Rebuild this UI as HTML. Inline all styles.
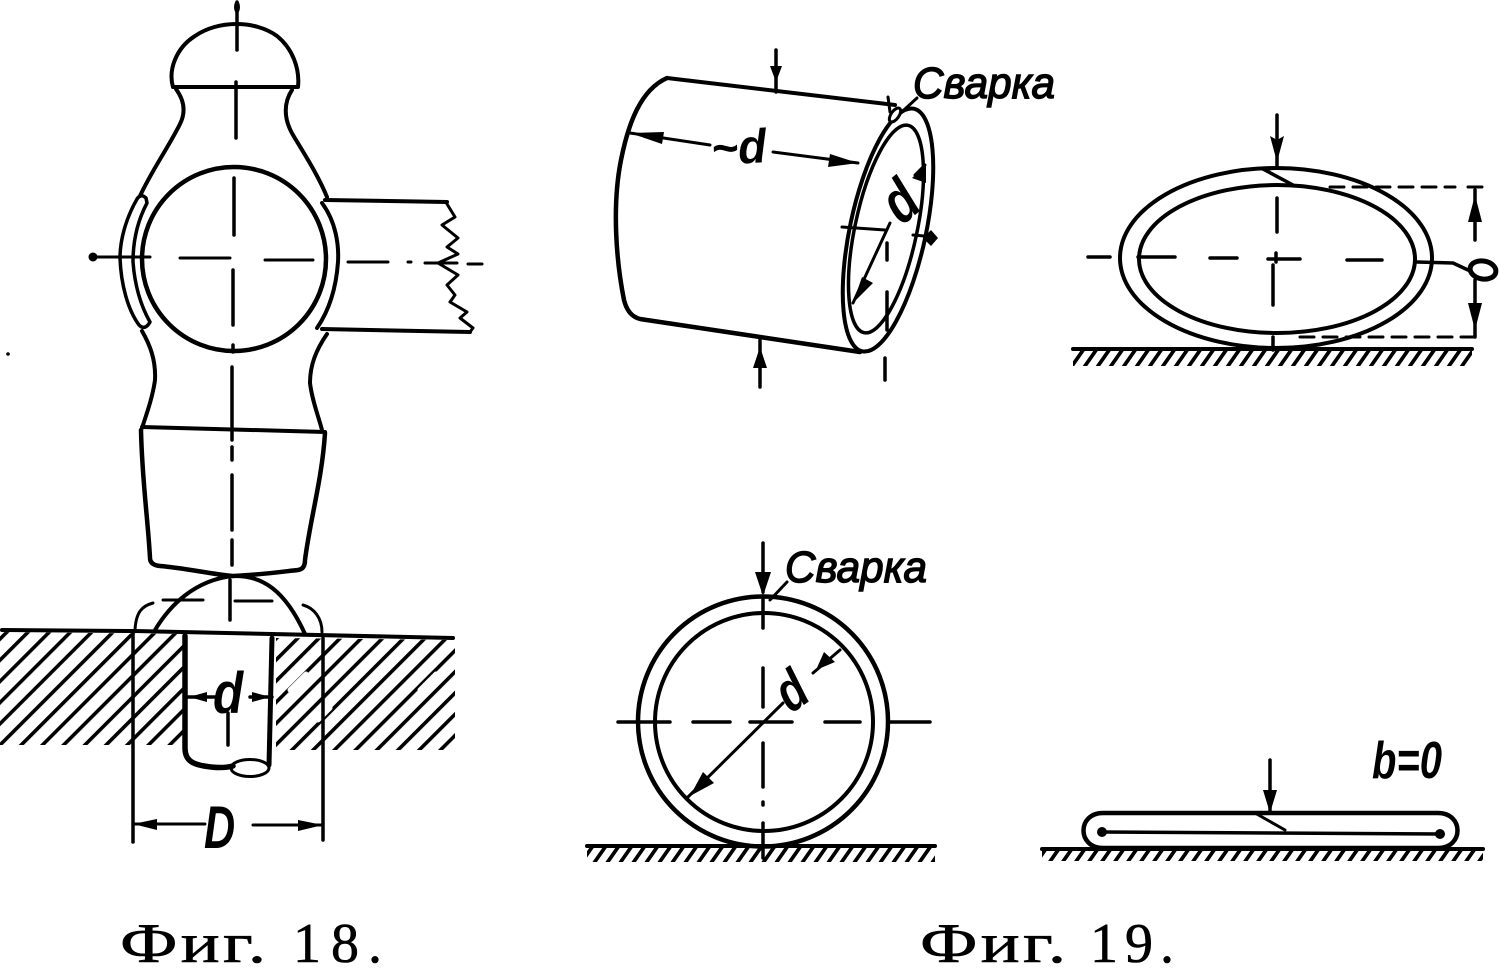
<!DOCTYPE html>
<html><head><meta charset="utf-8"><style>
html,body{margin:0;padding:0;background:#fff}
svg{display:block}
text{fill:#000}
.c{font-family:"Liberation Serif","Noto Serif CJK SC",serif;font-size:56px;stroke:#000;stroke-width:.6}
.h{font-family:"Liberation Sans",sans-serif;font-style:italic;font-weight:bold}
.s{font-family:"Liberation Sans",sans-serif;font-style:italic;font-size:44px;stroke:#000;stroke-width:1.4}
</style></head><body>
<svg width="1500" height="968" viewBox="0 0 1500 968" xmlns="http://www.w3.org/2000/svg">
<defs>
<pattern id="hat" width="15" height="15" patternUnits="userSpaceOnUse" patternTransform="rotate(45)"><rect x="0" y="0" width="3.6" height="15" fill="#000"/></pattern>
<pattern id="gr" width="13" height="20" patternUnits="userSpaceOnUse" patternTransform="skewX(-35)"><rect width="4.5" height="20" fill="#000"/></pattern>
</defs>

<!-- hatching first -->
<path d="M0 632L183 634V745H0Z M276 638L455 640V750H276Z" fill="url(#hat)"/>
<g stroke="#fff" stroke-width="5" stroke-linecap="round">
<path d="M290 690L306 674M318 720L330 708M300 735L312 723M375 700L392 683M420 690L436 674M425 735L440 720"/>
</g>
<path d="M1073 350H1472V366H1073Z M587 846H935V862H587Z M1042 849H1483V861H1042Z" fill="url(#gr)"/>

<g fill="none" stroke="#000" stroke-width="4" stroke-linecap="round" stroke-linejoin="round">
<!-- Fig 18 hammer -->
<path d="M173 87C168 70 176 48 195 36C218 20 255 20 277 36C292 48 300 68 298 87Z"/>
<path d="M176 89C184 100 186 112 180 124C168 148 152 170 140 196"/>
<path d="M292 90C284 102 283 118 293 135C305 155 318 175 327 197"/>
<circle cx="234" cy="259" r="92" stroke-width="4.5"/>
<path d="M146 198Q141 193 137 199C126 218 120 240 120 258C121 285 128 310 139 325Q145 331 150 322C142 308 135 288 133 262C133 240 138 220 147 203Z" stroke-width="3.5"/>
<path d="M322 203C336 222 339 245 338 262C336 290 328 312 317 328" stroke-width="4"/>
<path d="M325 200L447 202M322 329L470 332"/>
<path d="M447 204L455 217L442 225L458 238L447 247L458 254L438 263L458 275L447 285L455 295L450 302L467 312L460 318L473 328L470 332" stroke-width="3"/>
<path d="M142 331C150 345 156 360 155 380C153 395 148 410 142 428"/>
<path d="M327 334C316 350 310 365 310 383C312 400 318 415 322 430"/>
<path d="M142 427L325 432"/>
<path d="M141 430C142 480 148 520 150 558Q150 565 160 566C185 568 210 574 233 576C258 575 280 572 298 570Q305 569 305 560C310 520 322 480 325 433" stroke-width="4.5"/>
<path d="M155 630C170 605 195 580 233 576C262 575 285 590 305 634"/>
<path d="M135 630C136 612 142 606 153 603M303 605C314 608 322 618 322 632" stroke-width="3"/>
<path d="M2 630L135 631M135 631L453 638"/>
<path d="M185 636V748C185 760 192 764 204 766C215 768 225 768 233 766" stroke-width="5.5"/>
<path d="M272 638L269 765" stroke-width="5"/>
<ellipse cx="250" cy="768" rx="19" ry="8.5" stroke-width="3"/>
<path d="M133 632V842M323 638V840" stroke-width="3.5"/>
<path d="M133 824H205M253 825H323" stroke-width="3"/>
<path d="M187 697H215M250 697H272" stroke-width="3.5"/>
<!-- centre lines fig 18 -->
<path d="M237 2V50M236 82V138M234 178V235M233 270V325M233 345V352M232 367V440M232 447V460M232 475V530M232 540V565M230 580V620M228 713V745" stroke-width="3.5"/>
<path d="M93 257H150M180 258H230M265 260H313M348 262H388M408 262H411M425 263H457M468 264H482" stroke-width="3"/>
<path d="M163 600H203M235 601H272" stroke-width="3"/>
</g>
<circle cx="93" cy="257" r="4.5"/>
<ellipse cx="237" cy="7" rx="3" ry="6"/>
<circle cx="8" cy="354" r="1.8"/>
<g fill="#000">
<path d="M133 824L157 819V830Z M323 825L298 820V831Z M189 697L207 692V702Z M270 697L252 692V702Z"/>
</g>
<text class="h" font-size="58" transform="translate(213 713) scale(.85 1)">d</text>
<text class="h" font-size="60" transform="translate(204 848) scale(.72 1)">D</text>
<text class="c" transform="translate(120 962) scale(1.3 1)" letter-spacing="2.5">Фиг.</text>
<text class="c" y="962" x="293 331 368">18.</text>
<text class="c" transform="translate(920 962) scale(1.3 1)" letter-spacing="2.5">Фиг.</text>
<text class="c" y="962" x="1090 1125 1160">19.</text>

<!-- Fig 19 cylinder -->
<g fill="none" stroke="#000" stroke-width="4" stroke-linecap="round" stroke-linejoin="round">
<path d="M667 78L895 105"/>
<path d="M667 78C640 90 628 125 621 160C612 205 616 260 624 300Q628 316 640 319L860 352" stroke-width="4.5"/>
<ellipse cx="888" cy="230" rx="38" ry="124" transform="rotate(12 888 230)" stroke-width="4"/>
<ellipse cx="886" cy="229" rx="31" ry="106" transform="rotate(12 886 229)" stroke-width="3.5"/>
<path d="M630 133L710 145M773 152L858 163" stroke-width="3"/>
<path d="M917 98L893 120M888 97L890 112" stroke-width="3"/>
<path d="M776 50V92M760 340V387" stroke-width="3.5"/>
<path d="M885 358V380M887 292V330M887 243V260" stroke-width="3.5"/>
<path d="M842 227L885 230M913 235L935 237" stroke-width="3"/>
<path d="M890 223L853 303M915 175L925 165" stroke-width="3"/>
<!-- flattened oval -->
<ellipse cx="1276" cy="258" rx="156" ry="90" stroke-width="4"/>
<ellipse cx="1277" cy="259" rx="138" ry="74" stroke-width="4"/>
<path d="M1277 115V167" stroke-width="3.5"/>
<path d="M1263 169L1278 168M1263 169L1293 185" stroke-width="3.5"/>
<path d="M1088 257H1110M1138 257H1175M1210 258H1237M1268 259H1300M1347 260H1382" stroke-width="3.5"/>
<path d="M1277 198V232M1276 253V262M1273 265V305M1273 337V350" stroke-width="3.5"/>
<path d="M1330 187H1455M1468 187H1482M1300 337H1477" stroke-width="3" stroke-dasharray="14 9"/>
<path d="M1475 190V240M1475 280V337" stroke-width="3.5"/>
<path d="M1417 262L1453 263L1468 270" stroke-width="3.5"/>
<path d="M1073 349H1472" stroke-width="4"/>
<ellipse cx="1483" cy="270" rx="13" ry="9" transform="rotate(10 1483 270)" stroke-width="5"/>
<!-- circle -->
<circle cx="763" cy="721.5" r="125" stroke-width="4.5"/>
<circle cx="764" cy="722" r="109" stroke-width="4"/>
<path d="M763 543V592M763 598V628M763 668V707M763 743V787M763 802V805M763 823V858" stroke-width="3.5"/>
<path d="M618 722H670M693 722H730M750 722H792M825 722H860M890 722H930" stroke-width="3.5"/>
<path d="M783 703L688 797" stroke-width="3"/>
<path d="M840 650L813 673" stroke-width="3"/>
<path d="M770 600L787 582" stroke-width="3"/>
<path d="M587 846H935" stroke-width="4"/>
<!-- flat -->
<path d="M1103 813H1438C1464 813 1464 848 1438 848H1103C1077 848 1077 813 1103 813Z" stroke-width="4.5"/>
<path d="M1102 832L1440 834" stroke-width="3.5"/>
<path d="M1255 813L1285 830" stroke-width="3"/>
<path d="M1270 760V812" stroke-width="3.5"/>
<path d="M1042 849H1483" stroke-width="4"/>
</g>
<g fill="#000">
<path d="M776 82L770 66H782Z M760 347L753 368H767Z M630 133L664 132L662 144Z M858 163L830 154L828 167Z
M1277 162L1270 136L1277 140L1284 136Z M763 596L755 572H771Z M1270 813L1263 790H1277Z
M1475 195L1468 222H1482Z M1475 330L1468 303H1482Z
M690 796L703 772L714 783Z M816 670L824 652L835 662Z M853 303L862 277L873 283Z M926 165L912 178L926 183Z M923 238L931 230L938 238L931 246Z"/>
<circle cx="1102" cy="832" r="5"/><circle cx="1440" cy="834" r="5"/>
</g>
<ellipse cx="895" cy="115" rx="4" ry="8" transform="rotate(35 895 115)" fill="#fff" stroke="#000" stroke-width="3"/>
<text class="h" font-size="48" transform="translate(712 165) rotate(-3)" textLength="55" lengthAdjust="spacingAndGlyphs">~d</text>
<text class="h" font-size="60" transform="translate(902 226) rotate(-40) scale(.78 1)">d</text>
<text class="h" font-size="56" transform="translate(791 714) rotate(-35) scale(.78 1)">d</text>
<text class="s" x="913" y="98" textLength="142" lengthAdjust="spacingAndGlyphs">Сварка</text>
<text class="s" x="785" y="582" textLength="142" lengthAdjust="spacingAndGlyphs">Сварка</text>
<text class="h" font-size="52" x="1372" y="778" textLength="70" lengthAdjust="spacingAndGlyphs">b=0</text>
</svg>
</body></html>
